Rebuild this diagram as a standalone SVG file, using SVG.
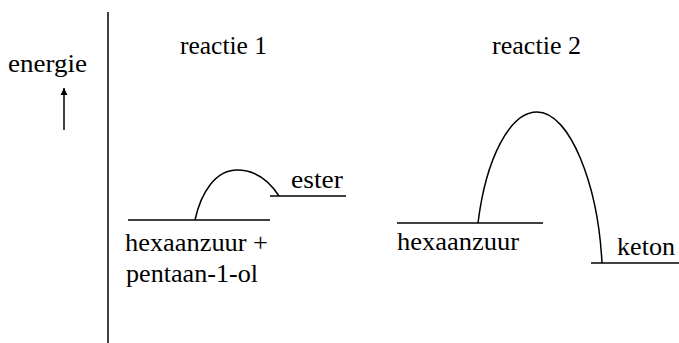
<svg xmlns="http://www.w3.org/2000/svg" width="679" height="343" viewBox="0 0 679 343">
<defs>
<style>
.t{font-family:"Liberation Serif","Times New Roman",serif;font-size:26px;fill:#000}
.ln{stroke:#000;stroke-width:1.5;fill:none}
</style>
<marker id="ah" viewBox="0 0 10 10" refX="10" refY="5" markerWidth="7" markerHeight="10" markerUnits="userSpaceOnUse" orient="auto">
<path d="M0,0 L10,5 L0,10 Z" fill="#000"/>
</marker>
</defs>
<rect width="679" height="343" fill="#fff"/>
<g id="axis">
<line class="ln" x1="108" y1="12" x2="108" y2="343"/>
<text class="t" x="8" y="72" textLength="79" lengthAdjust="spacingAndGlyphs">energie</text>
<line class="ln" x1="64" y1="130" x2="64" y2="88" marker-end="url(#ah)"/>
</g>
<g id="reactie1">
<text class="t" x="180" y="54" textLength="87" lengthAdjust="spacingAndGlyphs">reactie 1</text>
<line class="ln" x1="128" y1="220" x2="270" y2="220"/>
<line class="ln" x1="270" y1="196" x2="346" y2="196"/>
<path class="ln" d="M195,220 C201,192 216,170 237,170 C256,170 270,182 279,196"/>
<text class="t" x="291" y="188" textLength="52" lengthAdjust="spacingAndGlyphs">ester</text>
<text class="t" x="125" y="251" textLength="143" lengthAdjust="spacingAndGlyphs">hexaanzuur +</text>
<text class="t" x="126" y="282" textLength="132" lengthAdjust="spacingAndGlyphs">pentaan-1-ol</text>
</g>
<g id="reactie2">
<text class="t" x="492" y="54" textLength="89" lengthAdjust="spacingAndGlyphs">reactie 2</text>
<line class="ln" x1="397" y1="223" x2="543" y2="223"/>
<line class="ln" x1="591" y1="263" x2="679" y2="263"/>
<path class="ln" d="M478,223 C486,158 510,112 537,112 C570,112 598,185 602,263"/>
<text class="t" x="397" y="250" textLength="122" lengthAdjust="spacingAndGlyphs">hexaanzuur</text>
<text class="t" x="617" y="255" textLength="58" lengthAdjust="spacingAndGlyphs">keton</text>
</g>
</svg>
